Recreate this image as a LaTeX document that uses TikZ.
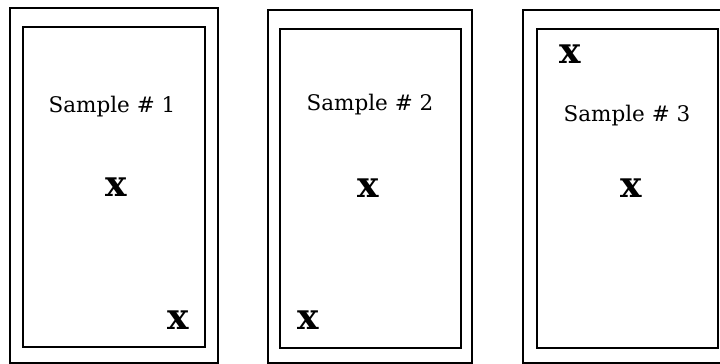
\documentclass[tikz,border=0pt]{standalone}
\usepackage{fontspec}
\setmainfont{DejaVu Serif}
\begin{document}
\begin{tikzpicture}[x=1pt,y=-1pt,
  outer/.style={draw=black, line width=1.9pt},
  inner/.style={draw=black, line width=2.6pt},
  lbl/.style={anchor=base, inner sep=0pt, font=\fontsize{21.5}{26}\selectfont},
  xmark/.style={anchor=base, inner sep=0pt, font=\fontsize{36}{40}\selectfont\bfseries}]
\useasboundingbox (0,0) rectangle (720,364);
\clip (0,0) rectangle (720,364);
% sample 1
\draw [outer] (10,8) rectangle (218,363);
\draw [inner] (23,27) rectangle (205,347);
\node [lbl] (s1) at (112,112) {Sample \# 1};
\node [xmark] (s1mid) at (116,196) {x};
\node [xmark] (s1low) at (178,329) {x};
% sample 2
\draw [outer] (268,10) rectangle (472,363);
\draw [inner] (280,29) rectangle (461,348);
\node [lbl] (s2) at (370,110) {Sample \# 2};
\node [xmark] (s2mid) at (368,197) {x};
\node [xmark] (s2low) at (308,329) {x};
% sample 3
\draw [outer] (523,10) rectangle (730,363);
\draw [inner] (537,29) rectangle (718,348);
\node [lbl] (s3) at (627,121) {Sample \# 3};
\node [xmark] (s3top) at (570,63) {x};
\node [xmark] (s3mid) at (631,197) {x};
\end{tikzpicture}
\end{document}
